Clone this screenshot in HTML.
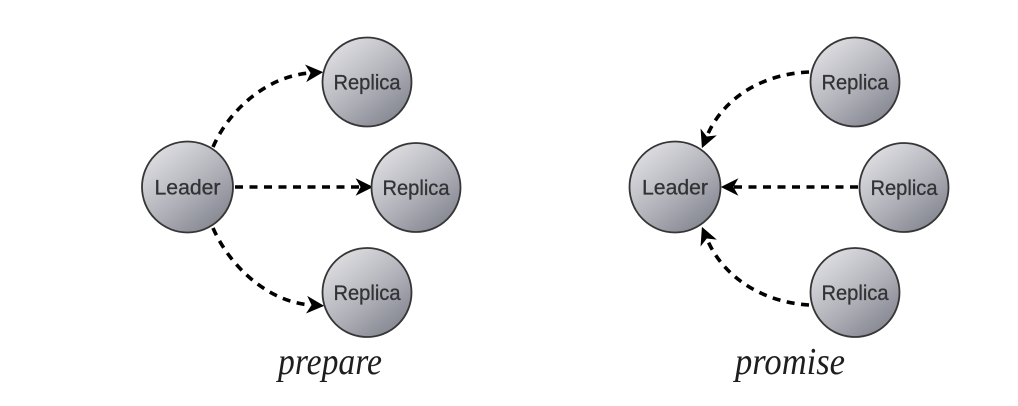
<!DOCTYPE html>
<html><head><meta charset="utf-8"><style>
html,body{margin:0;padding:0;background:#fff;}
svg{display:block;}
</style></head><body>
<svg width="1018" height="406" viewBox="0 0 1018 406" xmlns="http://www.w3.org/2000/svg">
<defs>
<linearGradient id="g" x1="0.15" y1="0.08" x2="0.85" y2="0.95">
<stop offset="0" stop-color="#dedee2"/>
<stop offset="0.5" stop-color="#b4b5bc"/>
<stop offset="1" stop-color="#82848f"/>
</linearGradient>
<marker id="ah" markerUnits="userSpaceOnUse" markerWidth="22" markerHeight="22" viewBox="-1 -10 19 20" refX="4" refY="0" orient="auto">
<path d="M0,-8 L16,0 L0,8 L4.5,0 z" fill="#000"/>
</marker>
</defs>

<g fill="none" stroke="#000" stroke-width="3.6" stroke-dasharray="8 6.5">
<path d="M213,147 C229,110 267,76 310,73" marker-end="url(#ah)"/>
<path d="M235,187 L360,187" marker-end="url(#ah)"/>
<path d="M213,228 C229,265 267,302 311,305" marker-end="url(#ah)"/>
<path d="M809,72 C760,74 722,100 707,136" marker-end="url(#ah)"/>
<path d="M858,187 L734,187" marker-end="url(#ah)"/>
<path d="M809,305 C760,302 722,275 707,239" marker-end="url(#ah)"/>
</g>

<g stroke="#363636" stroke-width="1.8" fill="url(#g)">
<circle cx="187.5" cy="187" r="45.5"/>
<circle cx="367" cy="82" r="44.5"/>
<circle cx="416" cy="187.5" r="44.5"/>
<circle cx="367" cy="292.5" r="44.5"/>
<circle cx="675" cy="187" r="45.5"/>
<circle cx="855" cy="82" r="44.5"/>
<circle cx="904" cy="187.5" r="44.5"/>
<circle cx="855" cy="292.5" r="44.5"/>
</g>

<g font-family="'Liberation Sans', 'DejaVu Sans', sans-serif" font-size="21.5" fill="#333336" stroke="#333336" stroke-width="0.3" text-anchor="middle">
<text x="187.5" y="194.5" textLength="66" lengthAdjust="spacingAndGlyphs">Leader</text>
<text x="367" y="89.5" textLength="67" lengthAdjust="spacingAndGlyphs">Replica</text>
<text x="416" y="195" textLength="67" lengthAdjust="spacingAndGlyphs">Replica</text>
<text x="367" y="300" textLength="67" lengthAdjust="spacingAndGlyphs">Replica</text>
<text x="675" y="194.5" textLength="66" lengthAdjust="spacingAndGlyphs">Leader</text>
<text x="855" y="89.5" textLength="67" lengthAdjust="spacingAndGlyphs">Replica</text>
<text x="904" y="195" textLength="67" lengthAdjust="spacingAndGlyphs">Replica</text>
<text x="855" y="300" textLength="67" lengthAdjust="spacingAndGlyphs">Replica</text>
</g>

<g font-family="'Liberation Serif', 'DejaVu Serif', serif" font-style="italic" font-size="38" fill="#1e1e1e">
<text x="278" y="374" textLength="104" lengthAdjust="spacingAndGlyphs">prepare</text>
<text x="735" y="374" textLength="110" lengthAdjust="spacingAndGlyphs">promise</text>
</g>
</svg>
</body></html>
